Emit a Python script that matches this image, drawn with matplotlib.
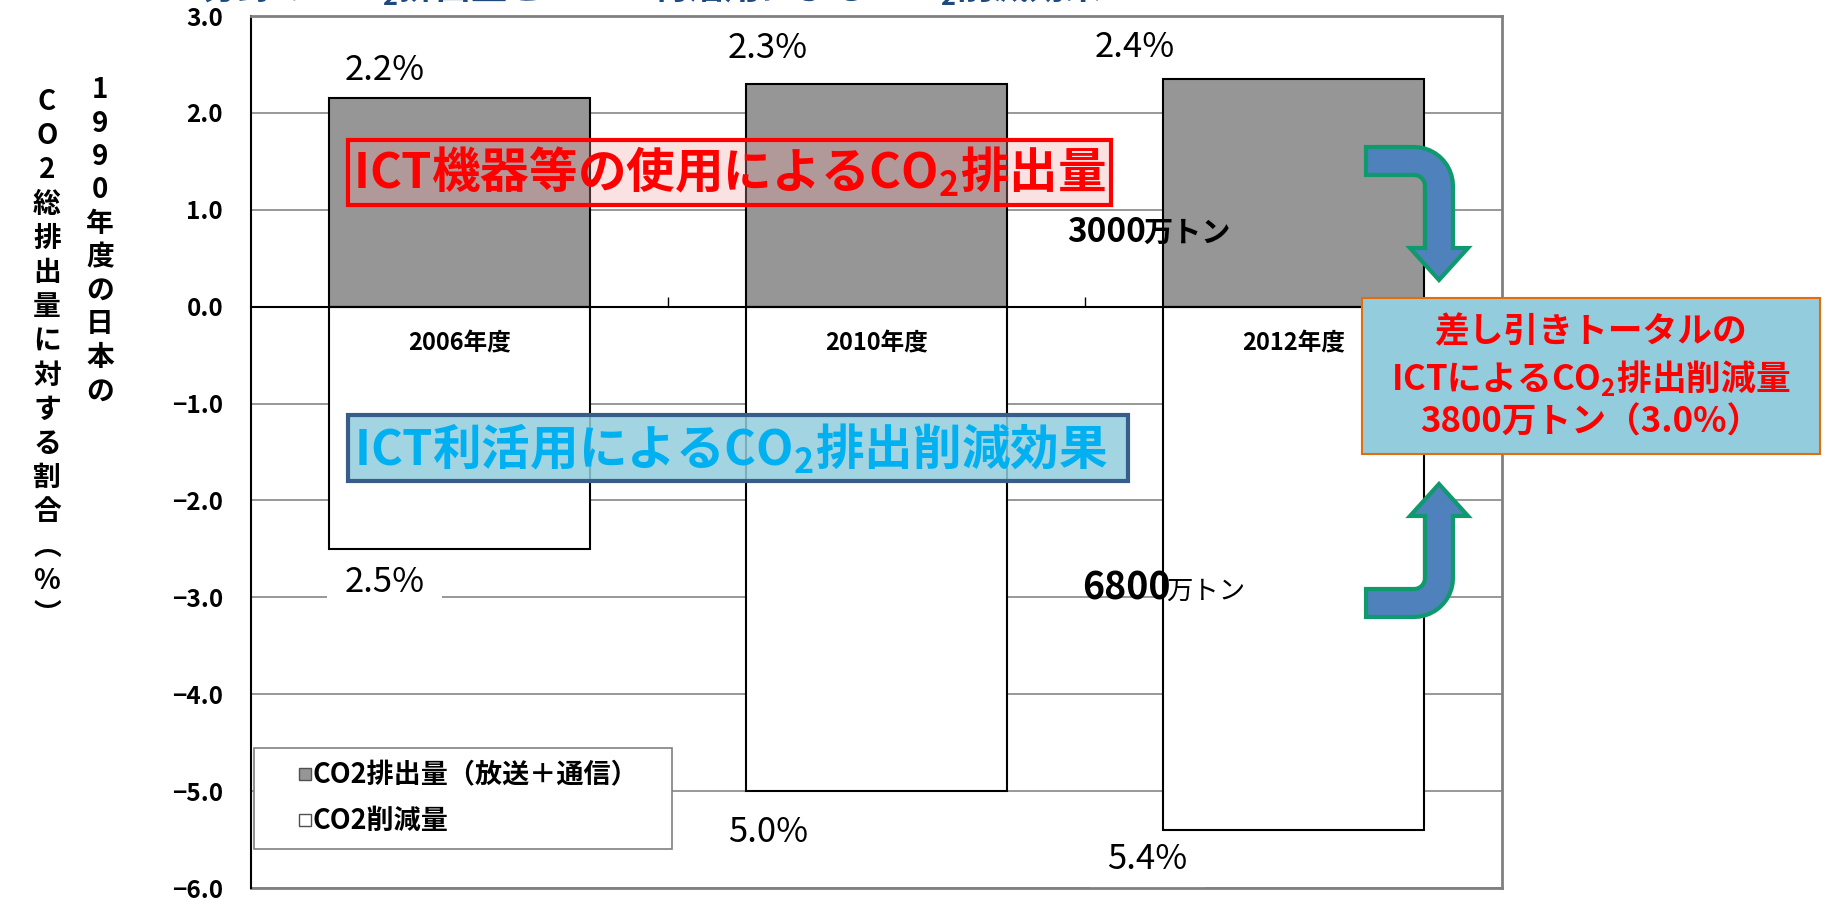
import matplotlib.pyplot as plt
import matplotlib.patches as mpatches
import matplotlib.transforms as mtransforms
import matplotlib.colors as mcolors
from matplotlib.lines import Line2D
import numpy as np

plt.rcParams['font.family'] = ['Noto Sans CJK JP', 'DejaVu Sans']

# data (% of Japan's 1990 total CO2 emissions)
categories = ['2006年度', '2010年度', '2012年度']
emission = [2.15, 2.30, 2.35]        # CO2排出量（放送＋通信）
reduction = [-2.50, -5.00, -5.40]    # CO2削減量
emission_labels = ['2.2%', '2.3%', '2.4%']
reduction_labels = ['2.5%', '5.0%', '5.4%']
y_ticks = [-6, -5, -4, -3, -2, -1, 0, 1, 2, 3]
legend_labels = ['CO2排出量（放送＋通信）', 'CO2削減量']

# label positions (data coords, as placed in the original)
emission_label_pos = [(-0.18, 2.44), (0.74, 2.66), (1.62, 2.68)]
reduction_label_pos = [(-0.18, -2.85), (0.74, -5.43), (1.65, -5.71)]

W, H = 1825, 906
fig = plt.figure(figsize=(W / 100, H / 100), dpi=100)
ax = fig.add_axes([251 / W, 1 - 888 / H, (1502 - 251) / W, (888 - 16) / H])
# pixel coordinates of the figure, y pointing down
px = mtransforms.Affine2D().scale(1 / W, -1 / H).translate(0, 1) + fig.transFigure

x = np.arange(len(categories))
ax.bar(x, emission, 0.626, color='#969696', edgecolor='black', lw=1.5, zorder=2)
ax.bar(x, reduction, 0.626, color='white', edgecolor='black', lw=1.5, zorder=2)

ax.set_xlim(-0.5, 2.5)
ax.set_ylim(-6, 3)
ax.set_yticks(y_ticks, [f'{v:.1f}'.replace('-', '\u2212') for v in y_ticks])
ax.tick_params(axis='y', length=0, pad=20, labelsize=17.5)
for t in ax.get_yticklabels():
    t.set_fontweight('bold')
ax.yaxis.grid(True, color='#868686', lw=1.2)
ax.set_axisbelow(True)

# category axis sits at zero
ax.spines['bottom'].set_position(('data', 0))
ax.spines['bottom'].set_linewidth(1.5)
ax.set_xticks(x[:-1] + 0.5)
ax.tick_params(axis='x', direction='in', length=7, width=1, labelbottom=False)
ax.spines['left'].set_linewidth(1.5)
for s in ['top', 'right']:
    ax.spines[s].set_color('#808080')
    ax.spines[s].set_linewidth(2)
ax.plot([0, 1], [0, 0], transform=ax.transAxes, color='#808080', lw=2, clip_on=False)

for i, cat in enumerate(categories):
    ax.text(x[i], -0.376, cat, ha='center', va='center', fontsize=17, fontweight='bold', zorder=4)

for lab, (lx, ly) in zip(emission_labels, emission_label_pos):
    ax.text(lx, ly, lab, ha='center', va='center', fontsize=25, zorder=4)
# white label boxes cut the gridlines but stay under the bars
for lab, (lx, ly) in zip(reduction_labels, reduction_label_pos):
    ax.text(lx, ly, lab, ha='center', va='center', fontsize=25, zorder=1.5,
            bbox=dict(boxstyle='square,pad=0.5', fc='white', ec='none'))

# legend
handles = [Line2D([], [], marker='s', ls='none', markersize=8, mfc='#969696', mec='#505050', mew=1),
           Line2D([], [], marker='s', ls='none', markersize=8, mfc='white', mec='#505050', mew=1)]
leg = ax.legend(handles, legend_labels, loc='upper left',
                bbox_to_anchor=(254 / W, 1 - 840 / H, (672 - 254) / W, 92 / H),
                bbox_transform=fig.transFigure, mode='expand', borderaxespad=0,
                prop={'weight': 'bold', 'size': 19.5}, handlelength=2.8, handletextpad=-1.15,
                borderpad=0.5, labelspacing=0.65, fancybox=False, framealpha=1,
                edgecolor='#808080')
leg.get_frame().set_linewidth(1.2)
leg.set_zorder(5)

# y-axis label, written vertically in two columns
ylabel_right = '1990年度の日本の'
ylabel_left = 'CO2総排出量に対する割合︵%︶'
for k, ch in enumerate(ylabel_right):
    fig.text(100 / W, 1 - (90 + 33.5 * k) / H, ch, ha='center', va='center', fontsize=20, fontweight='bold')
for k, ch in enumerate(ylabel_left):
    fig.text(47 / W, 1 - (102 + 34.2 * k) / H, ch, ha='center', va='center', fontsize=20, fontweight='bold')

# title, cut off at the top edge of the original
fig.text(93 / W, 1 + 1 / H, r'ＩＣＴ分野のＣＯ$_\mathregular{2}$排出量とＩＣＴ利活用によるＣＯ$_\mathregular{2}$削減効果',
         ha='left', va='baseline', fontsize=26, fontweight='bold', color='#1F497D')

# annotation boxes
fig.add_artist(mpatches.Rectangle((348, 140), 763, 65, transform=px, fc=mcolors.to_rgba('#F2A0A0', 0.3),
                                  ec='red', lw=3, zorder=5))
fig.text(729 / W, 1 - 172 / H, r'ICT機器等の使用によるCO$_\mathregular{2}$排出量', ha='center', va='center',
         fontsize=35, fontweight='bold', color='red', zorder=6)

fig.add_artist(mpatches.Rectangle((348, 415), 780, 66, transform=px, fc=mcolors.to_rgba('#93CDDD', 0.85),
                                  ec='#385D8A', lw=3, zorder=5))
fig.text(731 / W, 1 - 449 / H, r'ICT利活用によるCO$_\mathregular{2}$排出削減効果', ha='center', va='center',
         fontsize=35, fontweight='bold', color='#00B0F0', zorder=6)

fig.add_artist(mpatches.Rectangle((1362, 298), 458, 156, transform=px, fc='#93CDDD',
                                  ec='#E46C0A', lw=1.5, zorder=5))
box_lines = ['差し引きトータルの', r'ICTによるCO$_\mathregular{2}$排出削減量', '3800万トン（3.0%）']
for yy, line in zip([332, 378, 422], box_lines):
    fig.text(1591 / W, 1 - yy / H, line, ha='center', va='center', fontsize=25,
             fontweight='bold', color='red', zorder=6)

fig.text(1067 / W, 1 - 242 / H, '3000', ha='left', va='baseline', fontsize=24, fontweight='bold', zorder=6)
fig.text(1143 / W, 1 - 242 / H, '万トン', ha='left', va='baseline', fontsize=21, fontweight='bold', zorder=6)
fig.text(1082 / W, 1 - 599 / H, '6800', ha='left', va='baseline', fontsize=27, fontweight='bold', zorder=6)
fig.text(1166 / W, 1 - 599 / H, '万トン', ha='left', va='baseline', fontsize=19, zorder=6)


# bent arrows between the bars and the total box
def bent_arrow(flip):
    t = np.linspace(0, np.pi / 2, 12)
    pts = [(1366, 147), (1414, 147)]
    pts += list(zip(1414 + 39 * np.sin(t), 186 - 39 * np.cos(t)))
    pts += [(1453, 248), (1468, 248), (1439, 280), (1410, 248), (1425, 248)]
    pts += list(zip(1414 + 11 * np.sin(t[::-1]), 186 - 11 * np.cos(t[::-1])))
    pts += [(1366, 175)]
    pts = np.array(pts)
    if flip:
        pts[:, 1] = 764 - pts[:, 1]
    return mpatches.Polygon(pts, closed=True, transform=px, fc='#4F81BD', ec='#0F9A6E',
                            lw=3, joinstyle='miter', zorder=5)


fig.add_artist(bent_arrow(False))
fig.add_artist(bent_arrow(True))

fig.savefig('out.png', dpi=100)
